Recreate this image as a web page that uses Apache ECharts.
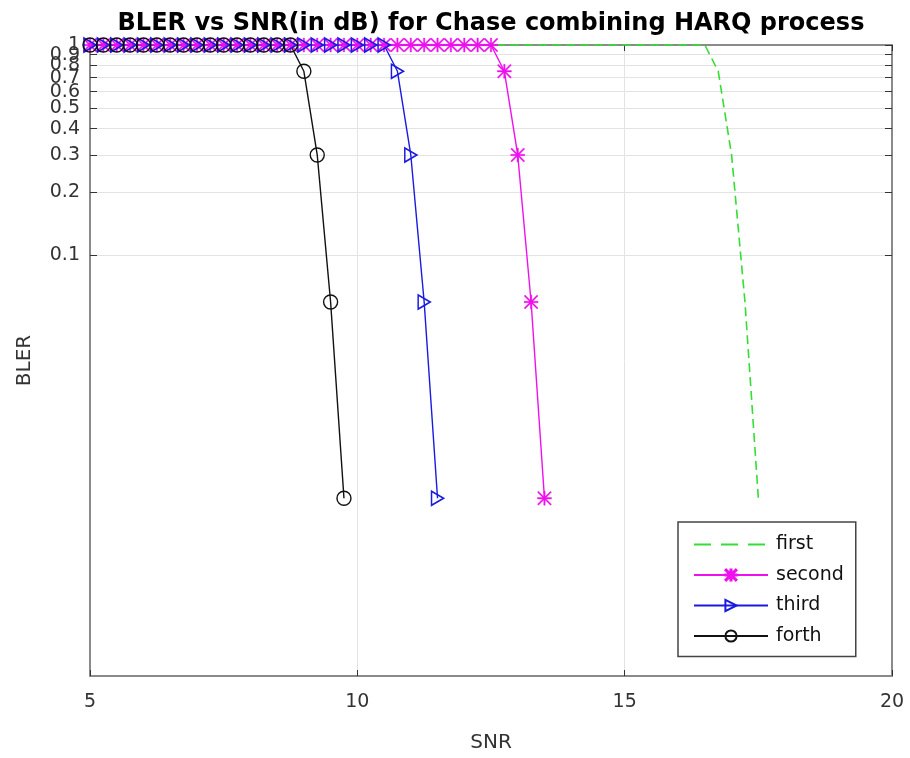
<!DOCTYPE html>
<html>
<head>
<meta charset="utf-8">
<script src="https://cdn.jsdelivr.net/npm/echarts@6/dist/echarts.min.js"></script>
<style>
html,body{margin:0;padding:0;background:#fff;}
#c{width:910px;height:758px;}
</style>
</head>
<body>
<div id="c"></div>
<script>
// SNR (dB) sample points
const snr = [5, 5.25, 5.5, 5.75, 6, 6.25, 6.5, 6.75, 7, 7.25, 7.5, 7.75, 8, 8.25, 8.5, 8.75,
  9, 9.25, 9.5, 9.75, 10, 10.25, 10.5, 10.75, 11, 11.25, 11.5, 11.75, 12, 12.25, 12.5, 12.75,
  13, 13.25, 13.5, 13.75, 14, 14.25, 14.5, 14.75, 15, 15.25, 15.5, 15.75, 16, 16.25, 16.5, 16.75,
  17, 17.25, 17.5];

// BLER values per transmission
const blerFirst = [1, 1, 1, 1, 1, 1, 1, 1, 1, 1, 1, 1, 1, 1, 1, 1,
  1, 1, 1, 1, 1, 1, 1, 1, 1, 1, 1, 1, 1, 1, 1, 1,
  1, 1, 1, 1, 1, 1, 1, 1, 1, 1, 1, 1, 1, 1, 1,
  0.75, 0.3, 0.06, 0.007];
const blerSecond = [1, 1, 1, 1, 1, 1, 1, 1, 1, 1, 1, 1, 1, 1, 1, 1,
  1, 1, 1, 1, 1, 1, 1, 1, 1, 1, 1, 1, 1, 1, 1,
  0.75, 0.3, 0.06, 0.007];
const blerThird = [1, 1, 1, 1, 1, 1, 1, 1, 1, 1, 1, 1, 1, 1, 1, 1,
  1, 1, 1, 1, 1, 1, 1,
  0.75, 0.3, 0.06, 0.007];
const blerForth = [1, 1, 1, 1, 1, 1, 1, 1, 1, 1, 1, 1, 1, 1, 1, 1,
  0.75, 0.3, 0.06, 0.007];

const seriesNames = ['first', 'second', 'third', 'forth'];
const xTicks = [5, 10, 15, 20];
const yTicks = [0.1, 0.2, 0.3, 0.4, 0.5, 0.6, 0.7, 0.8, 0.9, 1];
// label groups (split so that ECharts does not drop crowded labels)
const yLabelsA = [0.1, 0.2, 0.3, 0.4, 0.5, 0.7, 0.9];
const yLabelsB = [0.6, 0.8];
const yLabelsC = [1];

function pairs(vals) { return vals.map((v, i) => [snr[i], v]); }

const starPath = 'path://M4.5,0 L5.5,0 L5.5,10 L4.5,10 Z M0,4.5 L10,4.5 L10,5.5 L0,5.5 Z M0,0.7 L0.7,0 L10,9.3 L9.3,10 Z M9.3,0 L10,0.7 L0.7,10 L0,9.3 Z';
const triRight = 'path://M0,0 L10,5 L0,10 Z';

const FONT = '"DejaVu Sans", Verdana, sans-serif';
const GREEN = '#35dd35', MAG = '#ee11ee', BLUE = '#1a1ae0', BLK = '#111111';

const chart = echarts.init(document.getElementById('c'), null, {renderer: 'canvas'});

const xCommon = {
  type: 'value', min: 5, max: 20, interval: 5
};
const yCommon = {
  type: 'log', logBase: 10, min: 0.001, max: 1
};
const yLabelStyle = {fontFamily: FONT, fontSize: 19, color: '#333', margin: 10,
  hideOverlap: false, formatter: v => String(Math.round(v * 10) / 10)};

function labelAxis(values) {
  return Object.assign({}, yCommon, {
    position: 'left', offset: 0,
    axisLine: {show: false},
    axisTick: {show: false},
    axisLabel: Object.assign({}, yLabelStyle, {customValues: values}),
    splitLine: {show: false}
  });
}

chart.setOption({
  animation: false,
  backgroundColor: '#fff',
  title: {
    text: 'BLER vs SNR(in dB) for Chase combining HARQ process',
    left: 486, textAlign: 'center', top: 7,
    textStyle: {fontFamily: FONT, fontSize: 24, fontWeight: 'bold', color: '#000'}
  },
  grid: {left: 90, right: 18, top: 45, bottom: 82, containLabel: false},
  legend: {
    orient: 'vertical', left: 678, top: 522,
    padding: [13, 12, 11, 15],
    itemWidth: 74, itemHeight: 14, itemGap: 11.5,
    backgroundColor: '#fff', borderColor: '#444', borderWidth: 1.5, borderRadius: 0,
    textStyle: {fontFamily: FONT, fontSize: 19, color: '#111', padding: [0, 0, 0, 3]},
    data: [
      {name: 'first', itemStyle: {color: 'rgba(0,0,0,0)', borderWidth: 0, opacity: 0},
        lineStyle: {type: [17, 10]}},
      'second', 'third', 'forth'
    ]
  },
  xAxis: [
    Object.assign({}, xCommon, {
      position: 'bottom',
      name: 'SNR', nameLocation: 'middle', nameGap: 57,
      nameTextStyle: {fontFamily: FONT, fontSize: 20, color: '#333'},
      axisLine: {show: true, lineStyle: {color: '#8a8a8a', width: 2}},
      axisTick: {show: true, inside: true, length: 6, lineStyle: {color: '#333'}},
      axisLabel: {fontFamily: FONT, fontSize: 19, color: '#333', margin: 17,
        customValues: xTicks},
      splitLine: {show: true, lineStyle: {color: '#e3e3e3', width: 1}}
    }),
    Object.assign({}, xCommon, {
      position: 'top',
      axisLine: {show: true, lineStyle: {color: '#8a8a8a', width: 2}},
      axisTick: {show: true, inside: true, length: 6, lineStyle: {color: '#333'}},
      axisLabel: {show: false},
      splitLine: {show: false}
    })
  ],
  yAxis: [
    Object.assign({}, yCommon, {
      position: 'left',
      name: 'BLER', nameLocation: 'middle', nameGap: 55,
      nameTextStyle: {fontFamily: FONT, fontSize: 20, color: '#333'},
      axisLine: {show: true, lineStyle: {color: '#8a8a8a', width: 2}},
      axisTick: {show: true, inside: true, length: 7, lineStyle: {color: '#333'},
        customValues: yTicks},
      axisLabel: Object.assign({}, yLabelStyle, {customValues: yLabelsA}),
      splitLine: {show: true, lineStyle: {color: '#e3e3e3', width: 1}}
    }),
    Object.assign({}, yCommon, {
      position: 'right',
      axisLine: {show: true, lineStyle: {color: '#8a8a8a', width: 2}},
      axisTick: {show: true, inside: true, length: 7, lineStyle: {color: '#333'},
        customValues: yTicks},
      axisLabel: {show: false},
      splitLine: {show: false}
    }),
    labelAxis(yLabelsB),
    labelAxis(yLabelsC)
  ],
  series: [
    {
      name: 'first', type: 'line', data: pairs(blerFirst), clip: false,
      symbol: 'none', color: GREEN,
      lineStyle: {color: GREEN, width: 1.6, type: [9, 5]},
      itemStyle: {color: GREEN}
    },
    {
      name: 'second', type: 'line', data: pairs(blerSecond), clip: false,
      symbol: starPath, symbolSize: 14, color: MAG,
      lineStyle: {color: MAG, width: 1.4},
      itemStyle: {color: MAG, borderColor: MAG, borderWidth: 0.4}
    },
    {
      name: 'third', type: 'line', data: pairs(blerThird), clip: false,
      symbol: triRight, symbolSize: [12, 14], color: BLUE,
      lineStyle: {color: BLUE, width: 1.4},
      itemStyle: {color: 'rgba(255,255,255,0)', borderColor: BLUE, borderWidth: 1.6}
    },
    {
      name: 'forth', type: 'line', data: pairs(blerForth), clip: false,
      symbol: 'circle', symbolSize: 14, color: BLK,
      lineStyle: {color: BLK, width: 1.4},
      itemStyle: {color: 'rgba(255,255,255,0)', borderColor: BLK, borderWidth: 1.4}
    }
  ]
});
</script>
</body>
</html>
